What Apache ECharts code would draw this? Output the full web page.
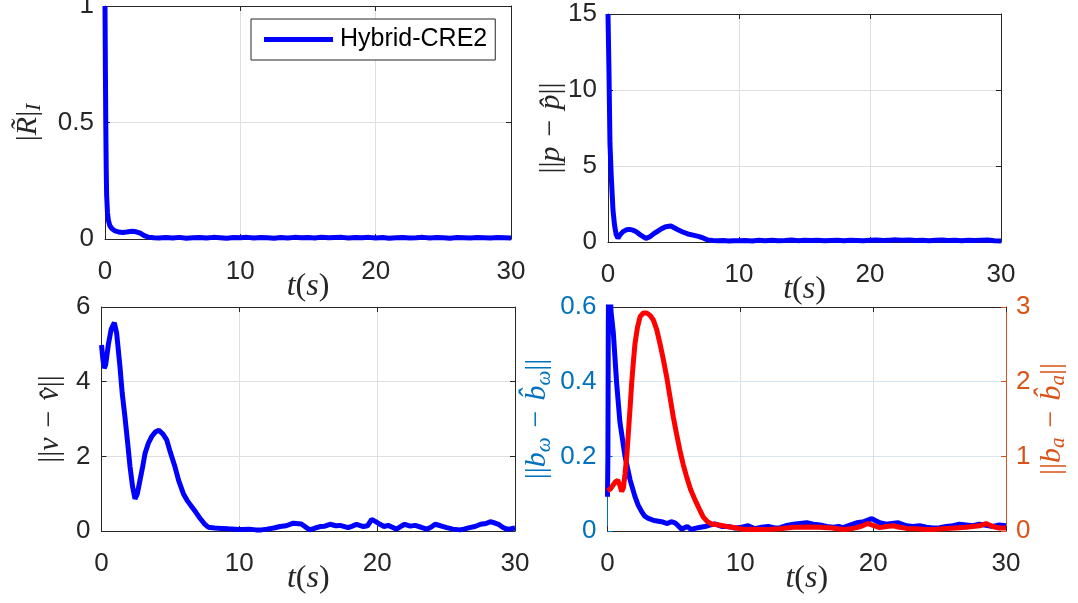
<!DOCTYPE html>
<html><head><meta charset="utf-8">
<script src="https://cdn.jsdelivr.net/npm/echarts@6.0.0/dist/echarts.min.js"></script>
<style>html,body{margin:0;padding:0;background:#fff}#c{width:1078px;height:603px}</style>
</head><body><div id="c"></div><script>
// ---------- data ----------
const xTicks = [0, 10, 20, 30];
const legendNames = ['Hybrid-CRE2'];

const tR = [0,0.03,0.06,0.09,0.12,0.18,0.25,0.35,0.5,0.7,1.0,1.3,1.6,2.0,2.3,2.6,2.9,3.2,3.6,4.0,
  4.5,5,5.5,6,6.5,7,7.5,8,8.5,9,9.5,10,10.5,11,11.5,12,12.5,13,13.5,14,14.5,15,15.5,16,16.5,17,17.5,18,18.5,19,19.5,20,
  20.5,21,21.5,22,22.5,23,23.5,24,24.5,25,25.5,26,26.5,27,27.5,28,28.5,29,29.5,30];
const vR = [1,0.72,0.48,0.3,0.19,0.115,0.08,0.058,0.045,0.036,0.03,0.028,0.03,0.033,0.031,0.025,0.014,0.008,0.005,0.004,
  0.006,0.004,0.007,0.003,0.005,0.006,0.004,0.007,0.005,0.003,0.006,0.005,0.007,0.004,0.006,0.005,0.003,0.006,0.004,0.007,
  0.005,0.006,0.004,0.008,0.005,0.006,0.007,0.004,0.006,0.005,0.007,0.004,0.006,0.003,0.005,0.006,0.004,0.005,0.007,0.004,
  0.006,0.005,0.003,0.006,0.005,0.004,0.006,0.005,0.004,0.006,0.005,0.004];

const tP = [0,0.04,0.08,0.15,0.25,0.38,0.5,0.62,0.76,0.9,1.15,1.4,1.65,1.9,2.16,2.5,2.9,3.2,3.5,3.8,4.1,4.4,4.8,5.3,5.7,
  6.1,6.5,6.9,7.3,7.6,8.0,8.4,8.8,9.2,9.6,10.0,
  10.5,11,11.5,12,12.5,13,13.5,14,14.5,15,15.5,16,16.5,17,17.5,18,18.5,19,19.5,20,
  20.5,21,21.5,22,22.5,23,23.5,24,24.5,25,25.5,26,26.5,27,27.5,28,28.5,29,29.5,30];
const vP = [15,13,10.9,6.5,4.3,2.1,1.1,0.5,0.25,0.45,0.68,0.8,0.83,0.78,0.68,0.45,0.24,0.35,0.55,0.72,0.88,1.0,1.05,0.82,0.66,
  0.53,0.45,0.37,0.25,0.14,0.1,0.08,0.1,0.07,0.09,0.08,
  0.1,0.07,0.11,0.09,0.12,0.08,0.1,0.13,0.09,0.11,0.1,0.12,0.08,0.1,0.11,0.09,0.12,0.1,0.08,0.11,
  0.13,0.1,0.12,0.14,0.11,0.13,0.1,0.12,0.09,0.11,0.13,0.1,0.12,0.09,0.11,0.1,0.12,0.13,0.08,0.06];

const tV = [0,0.1,0.2,0.3,0.5,0.7,0.93,1.1,1.34,1.5,1.7,1.9,2.07,2.25,2.43,2.6,2.8,3.0,3.16,3.4,
  3.64,3.9,4.17,4.45,4.73,5.0,5.33,5.6,5.94,6.25,6.55,6.85,7.15,7.45,7.75,8.2,8.72,9.2,9.7,10.2,
  10.7,11.2,11.6,12.0,12.5,12.95,13.4,13.92,14.5,15.1,15.5,15.86,16.2,16.58,17.0,17.3,17.9,18.2,18.5,19.0,
  19.3,19.6,19.9,20.2,20.5,20.8,21.1,21.4,21.7,22.0,22.4,22.75,23.2,23.6,23.9,24.2,24.6,25.05,25.5,26.0,
  26.3,26.7,27.1,27.5,27.9,28.2,28.5,28.8,29.1,29.4,29.7,30];
const vV = [4.98,4.6,4.36,4.45,5.0,5.4,5.58,5.3,4.4,3.7,3.06,2.35,1.72,1.2,0.86,1.0,1.37,1.75,2.08,2.35,
  2.53,2.65,2.7,2.6,2.44,2.1,1.72,1.35,1.0,0.8,0.65,0.5,0.34,0.2,0.1,0.08,0.07,0.06,0.05,0.04,
  0.05,0.03,0.03,0.05,0.08,0.12,0.14,0.21,0.19,0.03,0.08,0.12,0.13,0.18,0.14,0.15,0.09,0.13,0.18,0.12,
  0.14,0.31,0.25,0.18,0.12,0.15,0.1,0.05,0.12,0.18,0.13,0.15,0.1,0.05,0.1,0.18,0.14,0.09,0.05,0.03,
  0.05,0.09,0.12,0.18,0.2,0.25,0.22,0.18,0.1,0.05,0.06,0.08];

const tBw = [0,0.03,0.06,0.1,0.15,0.26,0.44,0.69,0.94,1.32,1.7,2.07,2.3,2.57,2.8,3.07,3.5,4.07,4.5,4.8,
  5.08,5.3,5.58,6.0,6.3,6.58,7.0,7.33,7.7,8.08,8.6,9.1,9.6,10.1,10.6,11.1,11.6,12.1,12.6,13.0,
  13.5,14.0,14.5,15.0,15.5,16.0,16.5,17.0,17.4,17.75,18.2,18.76,19.3,19.9,20.5,21.0,21.4,21.9,22.5,23.0,
  23.5,24.0,24.5,25.0,25.5,26.0,26.5,27.0,27.5,28.0,28.5,29.0,29.5,30];
const vBw = [0.092,0.2,0.55,0.75,0.72,0.59,0.53,0.395,0.29,0.2,0.137,0.092,0.07,0.052,0.04,0.034,0.028,0.025,0.02,0.025,
  0.022,0.015,0.005,0.012,0.004,0.007,0.01,0.012,0.016,0.019,0.012,0.012,0.008,0.01,0.014,0.006,0.01,0.012,0.008,0.009,
  0.015,0.018,0.02,0.022,0.018,0.016,0.012,0.01,0.012,0.009,0.015,0.022,0.025,0.033,0.022,0.018,0.02,0.022,0.014,0.012,
  0.014,0.01,0.008,0.009,0.012,0.014,0.018,0.016,0.014,0.018,0.015,0.012,0.016,0.014];

const tBa = [0,0.2,0.44,0.6,0.77,0.92,1.07,1.2,1.32,1.45,1.57,1.7,1.82,1.95,2.07,2.25,2.45,2.7,2.95,3.2,
  3.44,3.7,3.95,4.2,4.45,4.7,4.95,5.2,5.45,5.7,5.95,6.25,6.58,6.9,7.2,7.5,7.83,8.4,9.08,9.7,
  10.3,11.0,11.6,12.3,12.98,13.5,14.0,14.5,15.2,16.0,16.9,17.75,18.3,18.76,19.2,19.6,20.0,20.5,21.0,21.5,
  22.0,22.5,23.2,24.0,24.8,25.5,26.2,27.0,27.5,28.0,28.5,29.0,29.5,30];
const vBa = [0.54,0.56,0.62,0.66,0.68,0.62,0.53,0.58,0.77,1.0,1.31,1.65,1.98,2.27,2.51,2.72,2.87,2.92,2.92,2.89,
  2.83,2.7,2.51,2.3,2.07,1.8,1.53,1.3,1.08,0.89,0.73,0.56,0.42,0.3,0.19,0.13,0.094,0.08,0.058,0.04,
  0.02,0.025,0.02,0.022,0.03,0.04,0.05,0.05,0.055,0.05,0.04,0.02,0.03,0.045,0.07,0.1,0.075,0.045,0.06,0.07,
  0.05,0.035,0.03,0.02,0.025,0.035,0.04,0.05,0.06,0.07,0.1,0.06,0.04,0.04];

// ---------- styling helpers ----------
const AX = '#262626', GRIDC = '#dfdfdf';
const BLUE_AX = '#0072BD', ORANGE_AX = '#D95319';
const SANS = 'Liberation Sans, Arial, Helvetica, sans-serif';
const SERIF = 'Liberation Serif, Times New Roman, serif';
const TICK_FS = 26;
const LINE_W = 5;

function pairs(t, v) { return t.map((x, i) => [x, v[i]]); }
function richFor(color, fs) {
  fs = fs || 30;
  return {
    m: { fontFamily: SERIF, fontStyle: 'italic', fontSize: fs, lineHeight: 34, color },
    u: { fontFamily: SERIF, fontStyle: 'normal', fontSize: fs, lineHeight: 34, color },
    s: { fontFamily: SERIF, fontStyle: 'italic', fontSize: 21, lineHeight: 21, verticalAlign: 'bottom', color }
  };
}
const SP = '\u2004';
const MINUS = '{u|' + SP + '\u2212' + SP + '}';
const nameT = '{m|t}{u|(}{m|s}{u|)}';
const nameR = '{u||}{m|R\u0303}{u||}{s|I}';
const nameP = '{u|||}{m|p}' + MINUS + '{m|p\u0302}{u|||}';
const nameV = '{u|||}{m|v}' + MINUS + '{m|v\u0302}{u|||}';
const nameBw = '{u|||}{m|b}{s|\u03c9}' + MINUS + '{m|b\u0302}{s|\u03c9}{u|||}';
const nameBa = '{u|||}{m|b}{s|a}' + MINUS + '{m|b\u0302}{s|a}{u|||}';

function xAxes(gi) {
  return [{
    type: 'value', gridIndex: gi, position: 'bottom', min: xTicks[0], max: xTicks[xTicks.length - 1], interval: xTicks[1] - xTicks[0],
    axisLine: { show: true, onZero: false, lineStyle: { color: AX, width: 1 } },
    axisTick: { show: true, inside: true, length: 5, lineStyle: { color: AX } },
    axisLabel: { show: true, fontSize: TICK_FS, fontFamily: SANS, color: AX, margin: 20 },
    splitLine: { show: true, lineStyle: { color: GRIDC, width: 1 } },
    name: nameT, nameLocation: 'middle', nameGap: 31, nameMoveOverlap: false,
    nameTextStyle: { rich: richFor(AX, 32) }
  }, {
    type: 'value', gridIndex: gi, position: 'top', min: xTicks[0], max: xTicks[xTicks.length - 1], interval: xTicks[1] - xTicks[0],
    axisLine: { show: true, onZero: false, lineStyle: { color: AX, width: 1 } },
    axisTick: { show: true, inside: true, length: 5, lineStyle: { color: AX } },
    axisLabel: { show: false }, splitLine: { show: false }
  }];
}
function yLeft(gi, min, max, interval, color, name, nameGap, gridColor) {
  return {
    type: 'value', gridIndex: gi, position: 'left', min, max, interval,
    axisLine: { show: true, onZero: false, lineStyle: { color, width: 1 } },
    axisTick: { show: true, inside: true, length: 5, lineStyle: { color } },
    axisLabel: { show: true, fontSize: TICK_FS, fontFamily: SANS, color, margin: 11 },
    splitLine: { show: true, lineStyle: { color: gridColor || GRIDC, width: 1 } },
    name, nameLocation: 'middle', nameRotate: 90, nameGap, nameMoveOverlap: false,
    nameTextStyle: { rich: richFor(color) }
  };
}
function yRightMirror(gi, min, max, interval) {
  return {
    type: 'value', gridIndex: gi, position: 'right', min, max, interval,
    axisLine: { show: true, onZero: false, lineStyle: { color: AX, width: 1 } },
    axisTick: { show: true, inside: true, length: 5, lineStyle: { color: AX } },
    axisLabel: { show: false }, splitLine: { show: false }
  };
}
function lineSeries(name, xi, yi, data, color) {
  return {
    type: 'line', name, xAxisIndex: xi, yAxisIndex: yi, data,
    showSymbol: false, symbol: 'none', clip: true, smooth: false,
    lineStyle: { color, width: LINE_W }, itemStyle: { color }, z: 3
  };
}

const option = {
  animation: false,
  backgroundColor: '#ffffff',
  grid: [
    { left: 105, top: 6, width: 406, height: 233, outerBoundsMode: 'none' },
    { left: 608, top: 14, width: 393, height: 228, outerBoundsMode: 'none' },
    { left: 101.5, top: 307, width: 413.5, height: 224, outerBoundsMode: 'none' },
    { left: 607.5, top: 307, width: 398.5, height: 224, outerBoundsMode: 'none' }
  ],
  xAxis: [].concat(xAxes(0), xAxes(1), xAxes(2), xAxes(3)),
  yAxis: [
    yLeft(0, 0, 1, 0.5, AX, nameR, 60), yRightMirror(0, 0, 1, 0.5),
    yLeft(1, 0, 15, 5, AX, nameP, 40), yRightMirror(1, 0, 15, 5),
    yLeft(2, 0, 6, 2, AX, nameV, 34), yRightMirror(2, 0, 6, 2),
    yLeft(3, 0, 0.6, 0.2, BLUE_AX, nameBw, 53, '#d6e7f3'),
    {
      type: 'value', gridIndex: 3, position: 'right', min: 0, max: 3, interval: 1,
      axisLine: { show: true, onZero: false, lineStyle: { color: ORANGE_AX, width: 1 } },
      axisTick: { show: true, inside: true, length: 5, lineStyle: { color: ORANGE_AX } },
      axisLabel: { show: true, fontSize: TICK_FS, fontFamily: SANS, color: ORANGE_AX, margin: 10 },
      splitLine: { show: false },
      name: nameBa, nameLocation: 'middle', nameRotate: 90, nameGap: 29, nameMoveOverlap: false,
      nameTextStyle: { rich: richFor(ORANGE_AX) }
    }
  ],
  legend: {
    data: legendNames, left: 251, top: 19, orient: 'horizontal',
    icon: 'rect', itemWidth: 69, itemHeight: 5,
    padding: [8, 8, 8, 13], borderColor: AX, borderWidth: 1, borderRadius: 0,
    backgroundColor: '#ffffff',
    textStyle: { fontSize: 25, fontFamily: SANS, color: '#000000', padding: [0, 0, 0, 2] }
  },
  series: [
    lineSeries(legendNames[0], 0, 0, pairs(tR, vR), '#0000ff'),
    lineSeries('p error', 2, 2, pairs(tP, vP), '#0000ff'),
    lineSeries('v error', 4, 4, pairs(tV, vV), '#0000ff'),
    lineSeries('bw error', 6, 6, pairs(tBw, vBw), '#0000ff'),
    lineSeries('ba error', 6, 7, pairs(tBa, vBa), '#ff0000')
  ]
};
const chart = echarts.init(document.getElementById('c'), null, { renderer: 'canvas' });
chart.setOption(option);
</script></body></html>
